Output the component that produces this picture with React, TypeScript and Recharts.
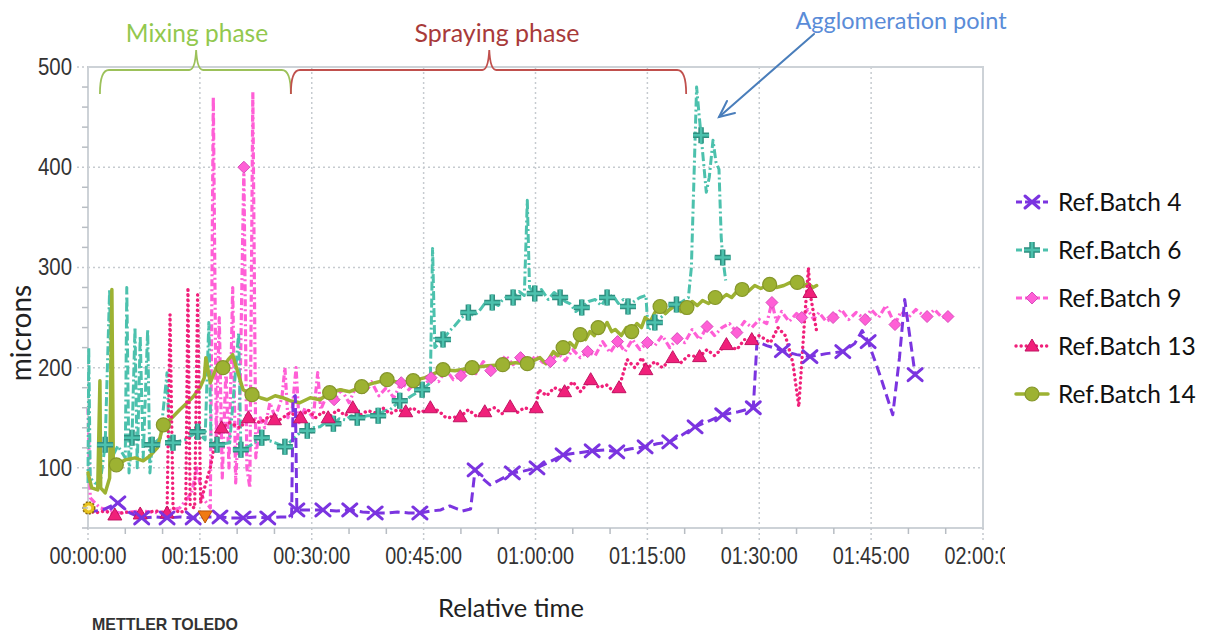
import React from "react"
import { ComposedChart, Line, Scatter, XAxis, YAxis, CartesianGrid, ReferenceArea } from "recharts"

type Pt = [number, number]

// [relative time in minutes, particle size in microns]
const batch4: Pt[] = [
  [0, 56], [2, 58], [4.0, 65], [5.6, 55], [7.2, 50], [9.0, 51], [10.6, 50], [12.3, 51], [14.1, 50], [15.8, 51],
  [17.7, 51], [19.2, 50], [20.8, 50], [22.5, 51], [24.1, 50], [25.8, 51], [27.3, 51], [27.5, 170], [27.8, 172], [28.0, 58],
  [29.8, 58], [31.5, 58], [33.3, 57], [35.1, 58], [36.8, 56], [38.5, 55], [40.0, 55], [41.5, 56], [43.0, 55], [44.5, 55],
  [46.0, 57], [47.3, 58], [48.5, 62], [49.5, 59], [50.2, 57], [51.3, 59], [51.9, 98], [52.8, 90], [53.9, 83], [55.2, 88],
  [56.9, 95], [58.5, 97], [60.2, 100], [61.9, 106], [63.7, 113], [65.7, 115], [67.6, 117], [69.3, 118], [70.9, 116], [72.8, 119],
  [74.7, 121], [76.3, 124], [78.0, 126], [79.7, 133], [81.4, 141], [83.3, 147], [85.1, 153], [87.2, 156], [89.2, 160], [89.7, 226],
  [91.0, 222], [93.1, 217], [95.0, 213], [96.8, 211], [99.0, 214], [101.2, 216], [102.8, 224], [103.8, 237], [104.6, 226], [106.3, 190],
  [107.9, 153], [108.8, 210], [109.5, 268], [110.9, 193],
]
const batch4Marks = [4.0, 7.2, 10.6, 14.1, 17.7, 20.8, 24.1, 28.0, 31.5, 35.1, 38.5, 44.5, 51.9, 56.9, 60.2, 63.7, 67.6, 70.9,
  74.7, 78.0, 81.4, 85.1, 89.2, 93.1, 96.8, 101.2, 104.6, 110.9]

const batch6: Pt[] = [
  [0, 85], [0.1, 220], [0.3, 90], [0.9, 85], [1.6, 83], [2.3, 123], [2.9, 278], [3.2, 110], [4.0, 122], [5.0, 110],
  [5.2, 280], [5.5, 95], [5.9, 130], [6.3, 240], [6.6, 100], [7.0, 232], [7.4, 110], [8.0, 238], [8.3, 95], [8.6, 123],
  [9.7, 130], [10.6, 195], [10.9, 120], [11.4, 125], [13.0, 128], [14.7, 136], [15.7, 128], [16.2, 245], [16.5, 125], [17.3, 123],
  [19.0, 125], [20.2, 235], [20.5, 118], [21.7, 122], [23.3, 130], [25.1, 125], [26.4, 121], [27.4, 128], [28.4, 135], [29.4, 137],
  [30.2, 140], [31.1, 141], [32.0, 146], [32.9, 144], [33.7, 149], [34.5, 148], [35.3, 152], [36.1, 150], [37.5, 152], [38.9, 152],
  [39.7, 157], [40.5, 158], [41.8, 167], [42.6, 168], [43.4, 172], [44.8, 178], [45.9, 185], [46.2, 319], [46.5, 220], [47.6, 228],
  [48.4, 236], [49.2, 242], [50.1, 250], [51.0, 255], [51.8, 252], [52.6, 258], [53.4, 266], [54.2, 265], [55.0, 262], [55.6, 268],
  [56.3, 271], [57.0, 270], [57.8, 276], [58.5, 272], [58.9, 367], [59.2, 280], [59.9, 274], [60.8, 278], [61.7, 268], [62.5, 275],
  [63.3, 270], [64.0, 266], [64.6, 264], [65.4, 256], [66.2, 260], [67.1, 266], [68.0, 268], [68.8, 262], [69.6, 270], [70.4, 272],
  [71.1, 264], [71.8, 268], [72.4, 261], [73.2, 266], [74.0, 270], [74.8, 272], [75.1, 237], [76.0, 245], [76.8, 250], [77.6, 255],
  [78.3, 262], [78.9, 263], [79.7, 266], [80.5, 270], [80.9, 300], [81.6, 480], [81.9, 455], [82.2, 432], [82.9, 375], [83.3, 390],
  [83.8, 427], [84.2, 405], [84.6, 398], [84.9, 330], [85.1, 310], [85.5, 287],
]
const batch6Marks = [2.3, 5.9, 8.6, 11.4, 14.7, 17.3, 20.5, 23.3, 26.4, 29.4, 32.9, 36.1, 38.9, 41.8, 44.8, 47.6, 51.0, 54.2,
  57.0, 59.9, 63.3, 66.2, 69.6, 72.4, 76.0, 78.9, 82.2, 85.1]

const batch9: Pt[] = [
  [0, 160], [0.3, 70], [1.6, 60], [4.3, 55], [7.0, 57], [9.7, 55], [12.3, 60], [13.9, 75], [14.6, 100], [15.4, 70],
  [16.4, 60], [16.8, 470], [17.2, 130], [17.6, 250], [18.0, 90], [18.5, 200], [18.9, 100], [19.4, 280], [19.8, 85], [20.4, 180],
  [20.9, 400], [21.3, 100], [21.7, 80], [22.1, 475], [22.5, 110], [23.1, 150], [23.7, 140], [24.4, 165], [25.1, 150], [26.0, 170],
  [26.4, 200], [26.8, 150], [27.4, 160], [27.9, 200], [28.3, 145], [29.1, 160], [30.2, 150], [30.8, 195], [31.2, 158], [32, 172],
  [33, 168], [34, 178], [35, 165], [36, 182], [37, 180], [38, 186], [39, 172], [40, 180], [41, 170], [42, 185],
  [43, 178], [44, 186], [45, 182], [46, 190], [47, 186], [48, 198], [49, 188], [50, 192], [51, 200], [52, 194],
  [53, 206], [54, 197], [55, 203], [56, 212], [57, 203], [58, 210], [59, 202], [60, 212], [61, 205], [62, 206],
  [63, 214], [64, 207], [65, 218], [66, 210], [67, 216], [68, 212], [69, 226], [70, 215], [71, 226], [72, 216],
  [73, 228], [74, 218], [75, 225], [76, 222], [77, 232], [78, 220], [79, 229], [80, 225], [81, 238], [82, 228],
  [83, 241], [84, 232], [85, 240], [86, 244], [87, 235], [88, 246], [89, 240], [90, 248], [91, 244], [91.7, 265],
  [92.3, 246], [93, 256], [94, 246], [95, 254], [95.7, 250], [96.5, 258], [97.3, 248], [98, 255], [99, 246], [99.9, 250],
  [101, 258], [102, 248], [103, 255], [104.2, 248], [105, 258], [106, 250], [107, 262], [108.2, 243], [109, 256], [110, 250],
  [111, 258], [112, 252], [112.5, 251], [113.5, 258], [114.5, 250], [115.3, 251], [115.6, 252],
]
const batch9Marks = [20.9, 33, 37, 42, 46, 50, 54, 58, 62, 67, 71, 75, 79, 83, 87, 91.7, 95.7, 99.9, 104.2, 108.2, 112.5, 115.3]

const batch13: Pt[] = [
  [0, 58], [0.9, 55], [2.3, 57], [3.6, 53], [5.0, 56], [7.0, 54], [9.0, 57], [10.6, 55], [11.0, 253], [11.4, 60],
  [12.3, 55], [13.1, 58], [13.4, 280], [13.7, 62], [14.3, 60], [14.7, 275], [15.1, 65], [15.8, 85], [16.4, 100], [17.0, 125],
  [17.9, 140], [19.0, 145], [20.4, 140], [21.5, 150], [23.1, 145], [24.4, 152], [25.0, 148], [25.7, 148], [27.1, 155], [28.5, 150],
  [29.5, 158], [30.5, 150], [31.5, 156], [32.2, 150], [33.5, 158], [34.5, 152], [35.5, 160], [36.5, 153], [37.5, 157], [38.5, 155],
  [39.5, 160], [40.5, 154], [41.5, 158], [42.6, 156], [43.5, 160], [44.5, 155], [45.9, 160], [47, 157], [48, 150], [49.9, 151],
  [51, 158], [52, 152], [53.2, 156], [54.5, 160], [55.5, 154], [56.6, 161], [57.5, 155], [58.5, 160], [59.5, 158], [60.1, 160],
  [60.4, 178], [61.5, 172], [62.5, 180], [63.9, 176], [65, 186], [66, 176], [67.4, 188], [68.5, 180], [69.5, 183], [70.5, 176],
  [71.2, 180], [72.3, 208], [73.3, 200], [74.3, 210], [74.8, 198], [76, 206], [77, 200], [78.4, 210], [79.5, 205], [80.5, 212],
  [82, 211], [83, 218], [84, 212], [85.6, 223], [87, 218], [88, 228], [89, 228], [90, 232], [91.5, 225], [92.5, 240],
  [93.5, 232], [94.5, 205], [95.3, 161], [96.1, 250], [96.6, 300], [96.8, 275], [97.7, 236],
]
const batch13Marks = [3.6, 7.0, 10.6, 17.9, 21.5, 25.0, 28.5, 32.2, 35.5, 42.6, 45.9, 49.9, 53.2, 56.6, 60.1, 63.9, 67.4, 71.2,
  74.8, 78.4, 82, 85.6, 89, 96.8]

const batch14: Pt[] = [
  [0, 95], [0.5, 80], [1.3, 78], [1.6, 187], [1.7, 80], [2.3, 75], [2.9, 90], [3.2, 278], [3.4, 100], [3.8, 103],
  [5.0, 108], [6.3, 110], [7.4, 107], [8.3, 112], [9.3, 120], [10.1, 143], [11.0, 148], [12.3, 158], [13.3, 165], [14.1, 171],
  [15.0, 180], [15.6, 190], [15.8, 210], [16.4, 185], [17.2, 200], [18.1, 200], [18.8, 208], [19.4, 213], [20.1, 195], [20.8, 178],
  [22.0, 173], [23.1, 170], [24.0, 168], [25.1, 172], [26.1, 170], [27.1, 167], [28.4, 165], [29.8, 170], [31.1, 168], [32.4, 175],
  [33.8, 178], [35.1, 176], [36.7, 181], [38.5, 185], [40.1, 188], [41.8, 185], [43.6, 187], [45.2, 190], [47.6, 198], [49.2, 197],
  [51.5, 200], [53.6, 202], [55.6, 203], [57.3, 205], [58.9, 204], [60.6, 210], [61.4, 204], [62.4, 216], [63.0, 212], [63.7, 220],
  [64.6, 225], [65.3, 220], [66.0, 233], [66.7, 228], [67.3, 236], [67.9, 232], [68.4, 240], [69.0, 238], [69.6, 245], [70.2, 236],
  [70.7, 238], [71.5, 232], [72.2, 240], [72.9, 236], [73.6, 244], [74.2, 240], [74.7, 250], [75.4, 246], [76.0, 255], [76.7, 261],
  [77.4, 254], [78.0, 258], [78.7, 262], [79.5, 256], [80.3, 260], [81.0, 266], [81.7, 262], [82.4, 267], [83.2, 264], [84.1, 270],
  [84.8, 268], [85.6, 273], [86.3, 270], [87.0, 276], [87.7, 278], [88.5, 276], [89.4, 282], [90.2, 279], [91.4, 283], [92.3, 280],
  [93.3, 282], [94.2, 285], [95.1, 285], [95.9, 281], [96.5, 284], [97.2, 280], [97.7, 282],
]
const batch14Marks = [3.8, 10.1, 18.1, 22.0, 32.4, 36.7, 40.1, 43.6, 47.6, 51.5, 55.6, 58.9, 63.7, 66.0, 68.4, 72.9, 76.7, 80.3,
  84.1, 87.7, 91.4, 95.1]

// instrument event flags at start and at the first pause
const startFlag: Pt[] = [[0.1, 60]]
const pauseFlag: Pt[] = [[15.7, 52]]

const xTicks = [0, 5, 10, 15, 20, 25, 30, 35, 40, 45, 50, 55, 60, 65, 70, 75, 80, 85, 90, 95, 100, 105, 110, 115, 120]
const yTicks = [40, 60, 80, 100, 120, 140, 160, 180, 200, 220, 240, 260, 280, 300, 320, 340, 360, 380, 400, 420, 440, 460, 480, 500]
const xGrid = [15, 30, 45, 60, 75, 90, 105]
const yGrid = [100, 200, 300, 400]

const W = 1205
const H = 634
const PLOT = { left: 88, top: 67, right: 983, bottom: 528 }
const Y_AXIS_W = 60
const X_AXIS_H = 40

const TICK_FONT = "'Liberation Sans Narrow', 'Arial Narrow', 'Liberation Sans', sans-serif"
const TEXT_FONT = "Lato, 'Open Sans', sans-serif"

// pixel helper for the overlay annotations, same geometry as the plot area
const px = (t: number) => PLOT.left + (t / 120) * (PLOT.right - PLOT.left)

const toRows = (pts: Pt[]) => pts.map(([t, v]) => ({ t, v }))
const markRows = (pts: Pt[], times: number[]) =>
  times.map((tm) => {
    let best = pts[0]
    for (const p of pts) if (Math.abs(p[0] - tm) < Math.abs(best[0] - tm)) best = p
    return { t: best[0], v: best[1] }
  })

const hms = (m: number) => {
  const h = Math.floor(m / 60)
  const mm = Math.round(m % 60)
  return `${String(h).padStart(2, "0")}:${String(mm).padStart(2, "0")}:00`
}

type Kind = "x" | "plus" | "diamond" | "triangle" | "circle" | "star" | "down"

function Marker({ kind, cx, cy, color, edge }: { kind: Kind; cx: number; cy: number; color: string; edge: string }) {
  switch (kind) {
    case "x":
      return (
        <g stroke={color} strokeWidth={3} strokeLinecap="round">
          <line x1={cx - 7} y1={cy - 6} x2={cx + 7} y2={cy + 6} />
          <line x1={cx - 7} y1={cy + 6} x2={cx + 7} y2={cy - 6} />
        </g>
      )
    case "plus": {
      const d = `M${cx - 8} ${cy}H${cx + 8}M${cx} ${cy - 8}V${cy + 8}`
      return (
        <g>
          <path d={d} stroke={edge} strokeWidth={5.5} fill="none" />
          <path d={d} stroke={color} strokeWidth={2.5} fill="none" />
        </g>
      )
    }
    case "diamond":
      return <path d={`M${cx} ${cy - 6}L${cx + 6} ${cy}L${cx} ${cy + 6}L${cx - 6} ${cy}Z`} fill={color} stroke={edge} strokeWidth={1} />
    case "triangle":
      return <path d={`M${cx} ${cy - 7}L${cx + 7} ${cy + 5}L${cx - 7} ${cy + 5}Z`} fill={color} stroke={edge} strokeWidth={1} />
    case "down":
      return <path d={`M${cx - 7} ${cy - 5}L${cx + 7} ${cy - 5}L${cx} ${cy + 7}Z`} fill={color} stroke={edge} strokeWidth={1} />
    case "star":
      return (
        <g>
          <circle cx={cx} cy={cy} r={6} fill={color} stroke={edge} strokeWidth={1.5} strokeDasharray="2 1.5" />
          <circle cx={cx} cy={cy} r={2.5} fill="#fff6c0" />
        </g>
      )
    default:
      return <circle cx={cx} cy={cy} r={7} fill={color} stroke={edge} strokeWidth={1.2} />
  }
}

const series = [
  { name: "Ref.Batch 9", pts: batch9, marks: batch9Marks, color: "#ff5fd6", edge: "#d84cbc", dash: "7 3 2 3", width: 3.2, kind: "diamond" as Kind, cap: "butt" },
  { name: "Ref.Batch 6", pts: batch6, marks: batch6Marks, color: "#4cc1ad", edge: "#2f8f80", dash: "9 3 2 3", width: 3, kind: "plus" as Kind, cap: "butt" },
  { name: "Ref.Batch 14", pts: batch14, marks: batch14Marks, color: "#9db232", edge: "#85962a", dash: undefined, width: 3.5, kind: "circle" as Kind, cap: "round" },
  { name: "Ref.Batch 13", pts: batch13, marks: batch13Marks, color: "#f0207a", edge: "#c21262", dash: "0.1 5", width: 3.4, kind: "triangle" as Kind, cap: "round" },
  { name: "Ref.Batch 4", pts: batch4, marks: batch4Marks, color: "#7b34e0", edge: "#6424c4", dash: "10 5", width: 3, kind: "x" as Kind, cap: "butt" },
]
const legendOrder = ["Ref.Batch 4", "Ref.Batch 6", "Ref.Batch 9", "Ref.Batch 13", "Ref.Batch 14"]

function XTick(p: any) {
  const { x, y, payload } = p
  const major = payload.value % 15 === 0
  const last = payload.value === 120
  return (
    <g>
      {major ? (
        <line x1={x} y1={y} x2={x} y2={y + 12} stroke="#c3c8cd" strokeWidth={1.5} strokeDasharray="2 3" />
      ) : (
        <line x1={x} y1={y} x2={x} y2={y + 6} stroke="#b8bdc3" strokeWidth={1.5} />
      )}
      {major && (
        <>
          {last && (
            <defs>
              <clipPath id="last-tick-clip">
                <rect x={0} y={0} width={1005} height={H} />
              </clipPath>
            </defs>
          )}
          <text x={x} y={y + 36} textAnchor="middle" fontFamily={TICK_FONT} fontSize={23} fill="#333"
            textLength={77} lengthAdjust="spacingAndGlyphs"
            clipPath={last ? "url(#last-tick-clip)" : undefined}>
            {hms(payload.value)}
          </text>
        </>
      )}
    </g>
  )
}

function YTick(p: any) {
  const { x, y, payload } = p
  const major = payload.value % 100 === 0
  return (
    <g>
      {major ? (
        <line x1={x - 11} y1={y} x2={x} y2={y} stroke="#c3c8cd" strokeWidth={1.5} strokeDasharray="2 3" />
      ) : (
        <line x1={x - 6} y1={y} x2={x} y2={y} stroke="#b8bdc3" strokeWidth={1.5} />
      )}
      {major && (
        <text x={x - 16} y={y + 8} textAnchor="end" fontFamily={TICK_FONT} fontSize={23} fill="#333"
          textLength={34} lengthAdjust="spacingAndGlyphs">
          {payload.value}
        </text>
      )}
    </g>
  )
}

function Brace({ x1, x2, mid, color }: { x1: number; x2: number; mid: number; color: string }) {
  const top = 70
  const end = 94
  const tip = 50
  const d = `M${x1} ${end} Q${x1} ${top} ${x1 + 9} ${top} L${mid - 7} ${top} Q${mid - 1} ${top} ${mid} ${tip}` +
    ` Q${mid + 1} ${top} ${mid + 7} ${top} L${x2 - 9} ${top} Q${x2} ${top} ${x2} ${end}`
  return <path d={d} fill="none" stroke={color} strokeWidth={1.8} />
}

function LegendIcon({ s, y }: { s: (typeof series)[number]; y: number }) {
  return (
    <g>
      <line x1={1016} y1={y} x2={1048} y2={y} stroke={s.color} strokeWidth={s.width}
        strokeDasharray={s.dash ? (s.kind === "triangle" ? "0.1 5" : "6 3") : undefined} strokeLinecap={s.cap as any} />
      <Marker kind={s.kind} cx={1032} cy={y} color={s.color} edge={s.edge} />
    </g>
  )
}

export default function App() {
  return (
    <div style={{ position: "absolute", left: 0, top: 0, width: W, height: H, background: "#fff", overflow: "hidden" }}>
      <ComposedChart
        width={W}
        height={H}
        margin={{ top: PLOT.top, right: W - PLOT.right, bottom: H - PLOT.bottom - X_AXIS_H, left: PLOT.left - Y_AXIS_W }}
      >
        <CartesianGrid horizontalValues={yGrid} verticalValues={xGrid} stroke="#c6cbd0" strokeWidth={1.5} strokeDasharray="2 3" />
        <ReferenceArea x1={0} x2={120} y1={40} y2={500} fill="none" stroke="#cdd2d7" strokeWidth={2} ifOverflow="visible" />
        <XAxis
          dataKey="t"
          type="number"
          domain={[0, 120]}
          ticks={xTicks}
          interval={0}
          height={X_AXIS_H}
          axisLine={false}
          tickLine={false}
          tickSize={0}
          tickMargin={0}
          tick={(p: any) => <XTick {...p} />}
        />
        <YAxis
          dataKey="v"
          type="number"
          domain={[40, 500]}
          ticks={yTicks}
          interval={0}
          width={Y_AXIS_W}
          axisLine={false}
          tickLine={false}
          tickSize={0}
          tickMargin={0}
          tick={(p: any) => <YTick {...p} />}
        />
        {series.map((s) => (
          <Line
            key={s.name}
            data={toRows(s.pts)}
            dataKey="v"
            type="linear"
            stroke={s.color}
            strokeWidth={s.width}
            strokeDasharray={s.dash}
            strokeLinecap={s.cap as any}
            strokeLinejoin="round"
            dot={false}
            activeDot={false}
            isAnimationActive={false}
          />
        ))}
        {series.map((s) => (
          <Scatter
            key={s.name + "-marks"}
            data={markRows(s.pts, s.marks)}
            dataKey="v"
            isAnimationActive={false}
            shape={(p: any) => <Marker kind={s.kind} cx={p.cx} cy={p.cy} color={s.color} edge={s.edge} />}
          />
        ))}
        <Scatter
          data={toRows(startFlag)}
          dataKey="v"
          isAnimationActive={false}
          shape={(p: any) => <Marker kind="star" cx={p.cx} cy={p.cy} color="#e8c21c" edge="#8a6a10" />}
        />
        <Scatter
          data={toRows(pauseFlag)}
          dataKey="v"
          isAnimationActive={false}
          shape={(p: any) => <Marker kind="down" cx={p.cx} cy={p.cy} color="#f07a12" edge="#b85208" />}
        />
      </ComposedChart>

      <svg width={W} height={H} style={{ position: "absolute", left: 0, top: 0, pointerEvents: "none" }}>
        {/* process phase braces */}
        <Brace x1={px(1.6)} x2={px(27.2)} mid={px(14.5)} color="#9cc15a" />
        <Brace x1={px(27.2)} x2={px(80.2)} mid={px(53.8)} color="#c0504d" />
        <text x={197} y={42} textAnchor="middle" fontFamily={TEXT_FONT} fontSize={24.5} fill="#92c84e">Mixing phase</text>
        <text x={497} y={42} textAnchor="middle" fontFamily={TEXT_FONT} fontSize={25} fill="#a83a3a">Spraying phase</text>

        {/* agglomeration callout */}
        <text x={901} y={29} textAnchor="middle" fontFamily={TEXT_FONT} fontSize={23.5} fill="#5a8cd8">Agglomeration point</text>
        <g stroke="#4a7ebb" strokeWidth={2} fill="none" strokeLinecap="round">
          <line x1={814} y1={34} x2={719} y2={117} />
          <polyline points="727,101 719,117 735,113" />
        </g>

        {/* axis titles */}
        <text x={0} y={0} transform="translate(31 333) rotate(-90)" textAnchor="middle" fontFamily={TEXT_FONT} fontSize={28} fill="#222">microns</text>
        <text x={511} y={617} textAnchor="middle" fontFamily={TEXT_FONT} fontSize={25.5} fill="#222">Relative time</text>
        <text x={92} y={630} fontFamily={TICK_FONT} fontWeight="bold" fontSize={17} fill="#333" textLength={146} lengthAdjust="spacingAndGlyphs">
          METTLER TOLEDO
        </text>

        {/* legend */}
        {legendOrder.map((name, i) => {
          const s = series.find((d) => d.name === name)!
          const y = 202 + i * 48
          return (
            <g key={name}>
              <LegendIcon s={s} y={y} />
              <text x={1058} y={y + 9} fontFamily={TEXT_FONT} fontSize={24.5} fill="#111">{name}</text>
            </g>
          )
        })}
      </svg>
    </div>
  )
}
